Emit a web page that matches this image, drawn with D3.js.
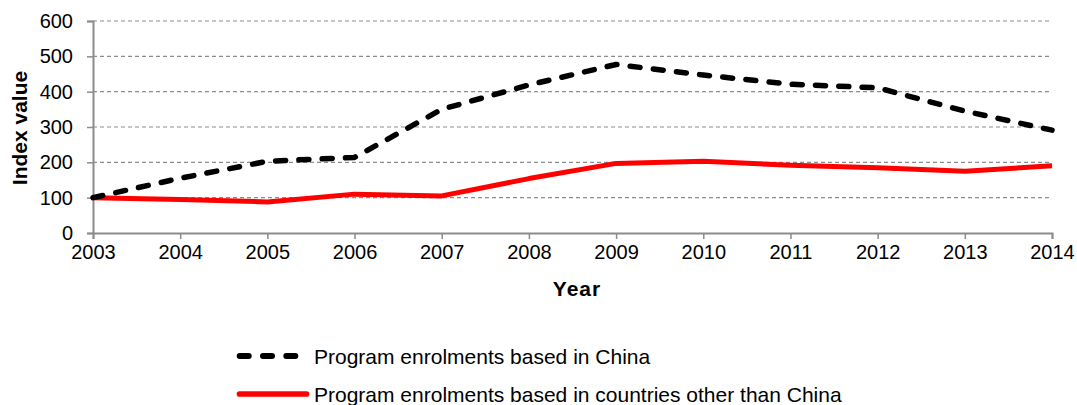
<!DOCTYPE html>
<html>
<head>
<meta charset="utf-8">
<script src="https://cdn.jsdelivr.net/npm/d3@7"></script>
<style>
  html, body { margin: 0; padding: 0; background: #fff; }
  svg { display: block; font-family: "Liberation Sans", Arial, sans-serif; }
</style>
</head>
<body>
<svg id="chart" width="1077" height="405"></svg>
<script>
// Enrolment index values (2003 = 100)
const years = [2003, 2004, 2005, 2006, 2007, 2008, 2009, 2010, 2011, 2012, 2013, 2014];
const chinaValues = [100, 155, 203, 214, 350, 419, 477, 447, 421, 411, 345, 291];
const otherValues = [100, 95, 88, 110, 105, 154, 197, 203, 192, 185, 175, 190];
const yTicks = [0, 100, 200, 300, 400, 500, 600];
const seriesNames = ["Program enrolments based in China",
                     "Program enrolments based in countries other than China"];

const svg = d3.select("#chart");
const margin = { left: 93, right: 25, top: 21, bottom: 172 };
const W = 1077, H = 405;
const plotW = W - margin.left - margin.right;
const plotH = H - margin.top - margin.bottom;

const x = d3.scaleLinear().domain([2003, 2014]).range([margin.left, margin.left + plotW]);
const y = d3.scaleLinear().domain([0, 600]).range([margin.top + plotH, margin.top]);

const axisColor = "#8c8c8c";
const fontFamily = "Liberation Sans, Arial, sans-serif";

// Horizontal gridlines
svg.append("g")
  .selectAll("line")
  .data(yTicks.filter(d => d > 0))
  .join("line")
  .attr("x1", x(2003)).attr("x2", x(2014))
  .attr("y1", d => y(d)).attr("y2", d => y(d))
  .attr("stroke", "#8c8c8c")
  .attr("stroke-width", 1.2)
  .attr("stroke-dasharray", "4,3");

// Y axis
const yAxis = svg.append("g")
  .attr("transform", `translate(${margin.left},0)`)
  .call(d3.axisLeft(y).tickValues(yTicks).tickSize(6).tickPadding(14).tickFormat(d3.format("d")));
yAxis.select(".domain").attr("stroke", axisColor).attr("stroke-width", 2);
yAxis.selectAll(".tick line").attr("stroke", axisColor).attr("stroke-width", 1.5);
yAxis.selectAll(".tick text")
  .attr("font-size", 20).attr("fill", "#000")
  .attr("font-family", fontFamily);

// X axis
const xAxis = svg.append("g")
  .attr("transform", `translate(0,${y(0)})`)
  .call(d3.axisBottom(x).tickValues(years).tickSize(6).tickPadding(6).tickFormat(d3.format("d")));
xAxis.select(".domain").attr("stroke", axisColor).attr("stroke-width", 2);
xAxis.selectAll(".tick line").attr("stroke", axisColor).attr("stroke-width", 1.5);
xAxis.selectAll(".tick text")
  .attr("font-size", 20).attr("fill", "#000")
  .attr("font-family", fontFamily);

// Axis titles
svg.append("text")
  .attr("x", 577)
  .attr("y", 296)
  .attr("text-anchor", "middle")
  .attr("font-size", 21).attr("font-weight", "bold")
  .attr("letter-spacing", 1)
  .text("Year");

svg.append("text")
  .attr("transform", `translate(27,${(y(0) + y(600)) / 2 + 1}) rotate(-90)`)
  .attr("text-anchor", "middle")
  .attr("font-size", 21).attr("font-weight", "bold")
  .text("Index value");

// Series lines
const line = d3.line().x((d, i) => x(years[i])).y(d => y(d));

svg.append("path")
  .datum(otherValues)
  .attr("d", line)
  .attr("fill", "none")
  .attr("stroke", "#ff0000")
  .attr("stroke-width", 5)
  .attr("stroke-linejoin", "round");

svg.append("path")
  .datum(chinaValues)
  .attr("d", line)
  .attr("fill", "none")
  .attr("stroke", "#000")
  .attr("stroke-width", 5.5)
  .attr("stroke-linecap", "round")
  .attr("stroke-linejoin", "round")
  .attr("stroke-dasharray", "10,13.3");

// Legend
const legend = svg.append("g");
const legendItems = [
  { name: seriesNames[0], color: "#000", dash: "9,14.3", width: 6, y: 356, x1: 239.7, x2: 295.3 },
  { name: seriesNames[1], color: "#ff0000", dash: null, width: 5.7, y: 394, x1: 239.5, x2: 306.5 }
];
legendItems.forEach(it => {
  legend.append("line")
    .attr("x1", it.x1).attr("x2", it.x2)
    .attr("y1", it.y).attr("y2", it.y)
    .attr("stroke", it.color)
    .attr("stroke-width", it.width)
    .attr("stroke-linecap", "round")
    .attr("stroke-dasharray", it.dash);
  legend.append("text")
    .attr("x", 314).attr("y", it.y + 7.5)
    .attr("font-size", 21)
    .text(it.name);
});
</script>
</body>
</html>
